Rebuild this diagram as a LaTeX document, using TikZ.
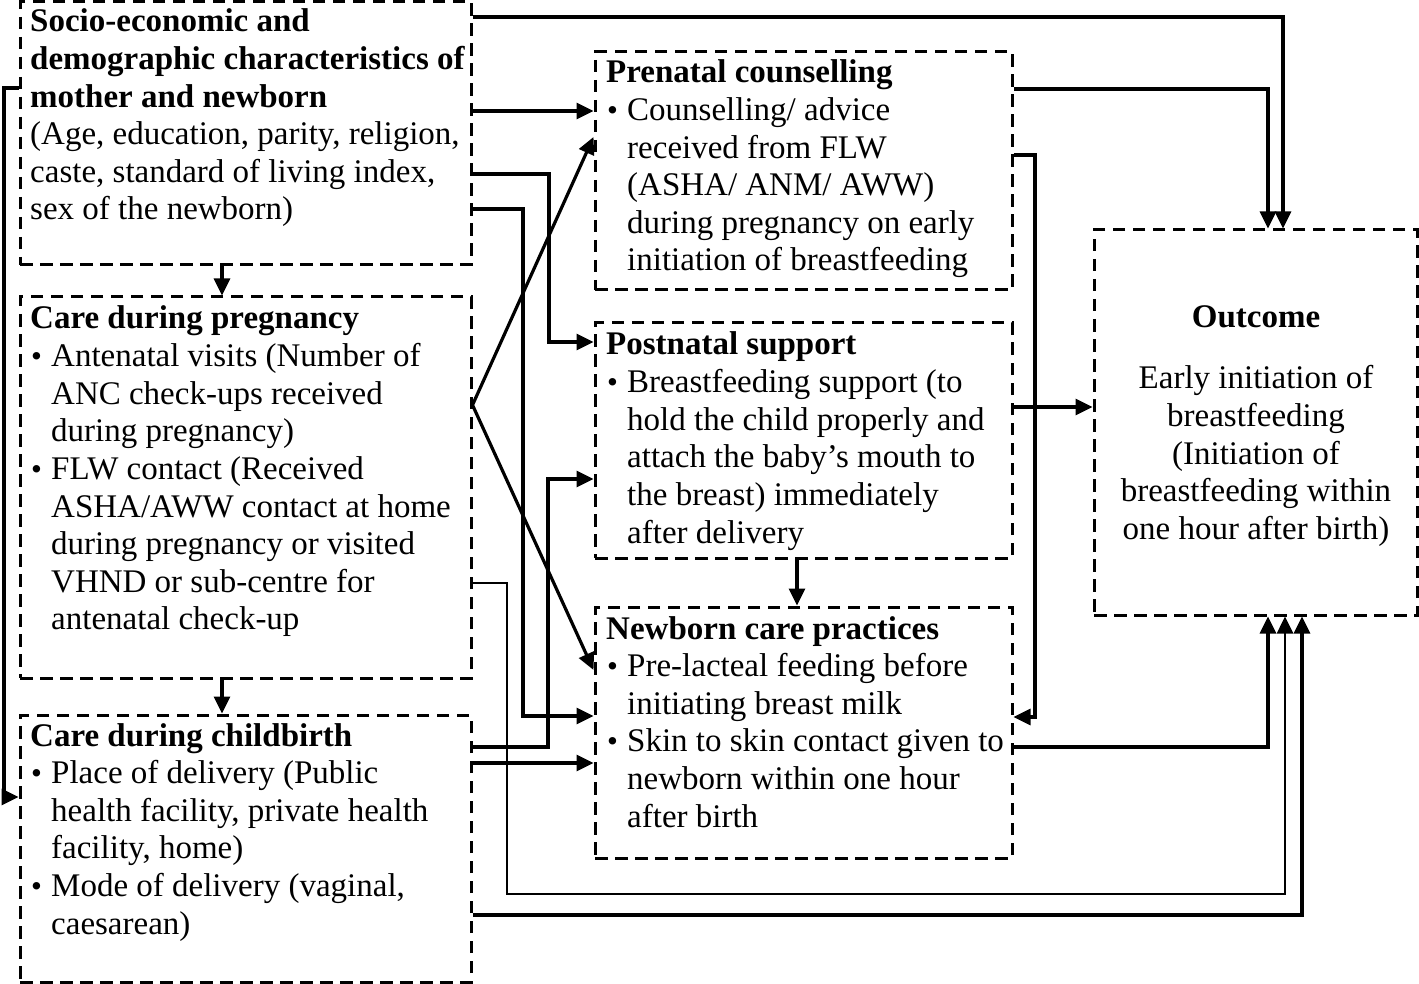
\documentclass[tikz,border=0pt]{standalone}
\usepackage{fontspec}
\setmainfont{Liberation Serif}
\usetikzlibrary{arrows.meta}
\newcommand\myitem{\makebox[21pt][l]{\hspace*{1pt}{\fontsize{31}{31}\selectfont\textbullet}}}
\newcommand\myind{\hspace*{21pt}}
\begin{document}
\begin{tikzpicture}[x=1pt,y=-1pt,
  box/.style={draw, line width=3pt, dash pattern=on 12.5pt off 7.5pt, inner sep=0pt},
  arr/.style={line width=3.2pt, -{Triangle[length=17pt,width=16pt]}},
  txt/.style={inner sep=0pt, anchor=base west, font=\fontsize{33}{37.6}\selectfont},
  ctxt/.style={inner sep=0pt, anchor=base, font=\fontsize{33}{37.6}\selectfont}]
\useasboundingbox (0,0) rectangle (1419,984);
% boxes
\node[box, minimum width=451pt, minimum height=263pt] (A) at (245.5,133.5) {};
\node[box, minimum width=451pt, minimum height=381pt] (B) at (245.5,487.5) {};
\node[box, minimum width=451pt, minimum height=267pt] (C) at (245.5,848.5) {};
\node[box, minimum width=417pt, minimum height=238pt] (P) at (803.5,171) {};
\node[box, minimum width=417pt, minimum height=235pt] (Q) at (803.5,440.5) {};
\node[box, minimum width=417pt, minimum height=251pt] (N) at (803.5,732.5) {};
\node[box, minimum width=323pt, minimum height=385pt] (O) at (1255.5,422.5) {};
% texts
\node[txt] (At) at (30,32) {\parbox[t]{440pt}{\textbf{Socio-economic and}\\
\textbf{demographic characteristics of}\\
\textbf{mother and newborn}\\
(Age, education, parity, religion,\\
caste, standard of living index,\\
sex of the newborn)}};
\node[txt] (Bt) at (30,329) {\parbox[t]{440pt}{\textbf{Care during pregnancy}\\
\myitem Antenatal visits (Number of\\
\myind ANC check-ups received\\
\myind during pregnancy)\\
\myitem FLW contact (Received\\
\myind ASHA/AWW contact at home\\
\myind during pregnancy or visited\\
\myind VHND or sub-centre for\\
\myind antenatal check-up}};
\node[txt] (Ct) at (30,746) {\parbox[t]{440pt}{\textbf{Care during childbirth}\\
\myitem Place of delivery (Public\\
\myind health facility, private health\\
\myind facility, home)\\
\myitem Mode of delivery (vaginal,\\
\myind caesarean)}};
\node[txt] (Pt) at (606,83) {\parbox[t]{400pt}{\textbf{Prenatal counselling}\\
\myitem Counselling/ advice\\
\myind received from FLW\\
\myind (ASHA/ ANM/ AWW)\\
\myind during pregnancy on early\\
\myind initiation of breastfeeding}};
\node[txt] (Qt) at (606,355) {\parbox[t]{400pt}{\textbf{Postnatal support}\\
\myitem Breastfeeding support (to\\
\myind hold the child properly and\\
\myind attach the baby’s mouth to\\
\myind the breast) immediately\\
\myind after delivery}};
\node[txt] (Nt) at (606,639) {\parbox[t]{400pt}{\textbf{Newborn care practices}\\
\myitem Pre-lacteal feeding before\\
\myind initiating breast milk\\
\myitem Skin to skin contact given to\\
\myind newborn within one hour\\
\myind after birth}};
\node[ctxt] (Ot) at (1256,327) {\parbox[t]{315pt}{\centering\textbf{Outcome}\\[24.4pt]
Early initiation of\\
breastfeeding\\
(Initiation of\\
breastfeeding within\\
one hour after birth)}};
% connectors
\draw[arr] (A.east |- 0,17) -| (O.north -| 1283,0);
\draw[arr] (P.east |- 0,89) -| (O.north -| 1268,0);
\draw[arr] (A.east |- 0,111) -- (P.west |- 0,111);
\draw[arr] (A.east |- 0,174) -| (549,342) -- (Q.west |- 0,342);
\draw[arr] (A.east |- 0,209) -| (523,716) -- (N.west |- 0,716);
\draw[arr] (B.east |- 0,405) -- (P.west |- 0,137);
\draw[arr] (B.east |- 0,405) -- (N.west |- 0,670);
\draw[arr, line width=2.6pt] (B.east |- 0,583) -| (507,894) -| (O.south -| 1285,0);
\draw[arr] (C.east |- 0,747) -| (548,479) -- (Q.west |- 0,479);
\draw[arr] (C.east |- 0,763) -- (N.west |- 0,763);
\draw[arr] (C.east |- 0,915) -| (O.south -| 1302,0);
\draw[arr] (N.east |- 0,747) -| (O.south -| 1268,0);
\draw[arr] (Q.east |- 0,407) -- (O.west |- 0,407);
\draw[arr] (P.east |- 0,155) -| (1035,717) -- (N.east |- 0,717);
\draw[arr] (A.south -| 222,0) -- (B.north -| 222,0);
\draw[arr] (B.south -| 222,0) -- (C.north -| 222,0);
\draw[arr] (Q.south -| 797,0) -- (N.north -| 797,0);
\draw[arr] (A.west |- 0,88) -| (4,797) -- (C.west |- 0,797);
\end{tikzpicture}
\end{document}
